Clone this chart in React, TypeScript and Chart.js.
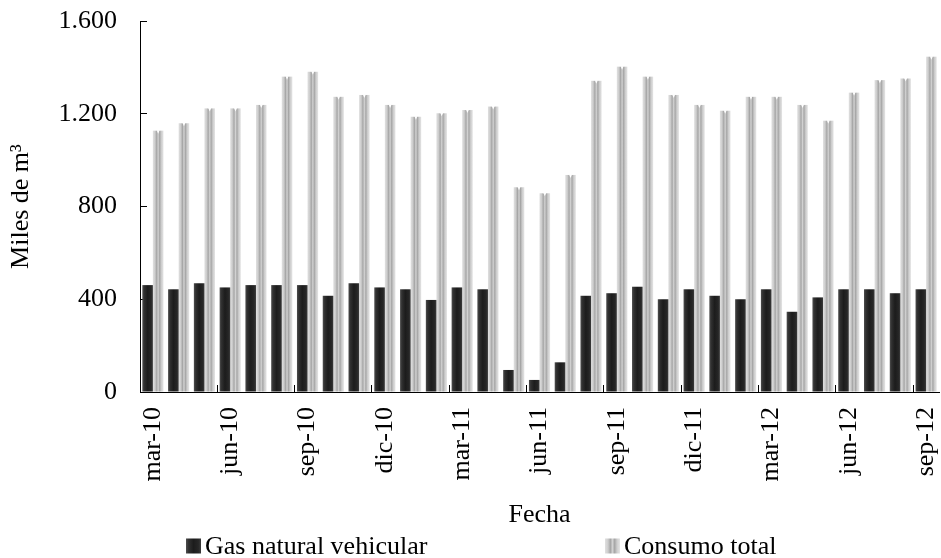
import React, { useEffect, useRef } from 'react';
import { Chart, registerables } from 'chart.js';

Chart.register(...registerables);

const months = [
  'mar-10', 'abr-10', 'may-10', 'jun-10', 'jul-10', 'ago-10', 'sep-10', 'oct-10', 'nov-10', 'dic-10',
  'ene-11', 'feb-11', 'mar-11', 'abr-11', 'may-11', 'jun-11', 'jul-11', 'ago-11', 'sep-11', 'oct-11',
  'nov-11', 'dic-11', 'ene-12', 'feb-12', 'mar-12', 'abr-12', 'may-12', 'jun-12', 'jul-12', 'ago-12', 'sep-12',
];

const gasNaturalVehicular = [
  461, 443, 469, 451, 461, 461, 461, 415, 469, 451,
  443, 397, 451, 443, 95, 52, 128, 415, 426, 454,
  400, 443, 415, 400, 443, 346, 408, 443, 443, 426, 443,
];

const consumoTotal = [
  1127, 1159, 1223, 1223, 1238, 1360, 1381, 1273, 1281, 1238,
  1187, 1202, 1216, 1231, 883, 857, 936, 1342, 1403, 1360,
  1281, 1238, 1213, 1273, 1273, 1238, 1170, 1291, 1345, 1352, 1446,
];

const seriesLabels = ['Gas natural vehicular', 'Consumo total'];

const FONT = '"Liberation Serif", "Times New Roman", serif';

const darkStops: [number, string][] = [
  [0, '#4e4e4e'], [0.18, '#303030'], [0.5, '#1c1c1c'], [0.82, '#262626'], [1, '#3c3c3c'],
];
const lightStops: [number, string][] = [
  [0, '#e0e0e0'], [0.2, '#cdcdcd'], [0.36, '#a6a6a6'], [0.5, '#d2d2d2'],
  [0.64, '#a6a6a6'], [0.8, '#cdcdcd'], [1, '#e4e4e4'],
];
const stopsBySeries = [darkStops, lightStops];

function makeGradient(ctx: CanvasRenderingContext2D, x0: number, x1: number, stops: [number, string][]) {
  const g = ctx.createLinearGradient(x0, 0, x1, 0);
  stops.forEach(([o, c]) => g.addColorStop(o, c));
  return g;
}

const gradientBars = {
  id: 'gradientBars',
  afterDatasetDraw(chart: any, args: any) {
    const ctx: CanvasRenderingContext2D = chart.ctx;
    const stops = stopsBySeries[args.index];
    const area = chart.chartArea;
    ctx.save();
    ctx.beginPath();
    ctx.rect(area.left, area.top, area.right - area.left, area.bottom - area.top);
    ctx.clip();
    args.meta.data.forEach((el: any) => {
      const { x, y, base, width } = el.getProps(['x', 'y', 'base', 'width'], true);
      const left = x - width / 2;
      ctx.fillStyle = makeGradient(ctx, left, left + width, stops);
      ctx.fillRect(left, y, width, base - y);
      if (args.index === 1) {
        ctx.fillStyle = '#ffffff';
        ctx.beginPath();
        ctx.moveTo(x - width * 0.14, y - 0.5);
        ctx.lineTo(x + width * 0.14, y - 0.5);
        ctx.lineTo(x, y + 3);
        ctx.closePath();
        ctx.fill();
      }
    });
    ctx.restore();
  },
};

const bottomLegend = {
  id: 'bottomLegend',
  afterDraw(chart: any) {
    const ctx: CanvasRenderingContext2D = chart.ctx;
    const boxXs = [186, 605];
    const cy = 546;
    const box = 15;
    ctx.save();
    ctx.font = `26px ${FONT}`;
    ctx.textBaseline = 'middle';
    ctx.textAlign = 'left';
    chart.data.datasets.forEach((ds: any, i: number) => {
      const bx = boxXs[i];
      ctx.fillStyle = makeGradient(ctx, bx, bx + box, stopsBySeries[i]);
      ctx.fillRect(bx, cy - box / 2, box, box);
      ctx.fillStyle = '#000';
      ctx.fillText(ds.label, bx + box + 4, cy + 1);
    });
    ctx.restore();
  },
};

function formatThousands(v: number) {
  return String(v).replace(/\B(?=(\d{3})+(?!\d))/g, '.');
}

export default function App() {
  const canvasRef = useRef<HTMLCanvasElement | null>(null);

  useEffect(() => {
    document.body.style.margin = '0';
    const canvas = canvasRef.current;
    if (!canvas) return;
    const chart = new Chart(canvas, {
      type: 'bar',
      data: {
        labels: months,
        datasets: [
          {
            label: seriesLabels[0],
            data: gasNaturalVehicular,
            backgroundColor: 'rgba(0,0,0,0)',
            borderWidth: 0,
          },
          {
            label: seriesLabels[1],
            data: consumoTotal,
            backgroundColor: 'rgba(0,0,0,0)',
            borderWidth: 0,
          },
        ],
      },
      options: {
        responsive: false,
        animation: false,
        devicePixelRatio: 1,
        datasets: {
          bar: { categoryPercentage: 0.82, barPercentage: 1 },
        },
        layout: { padding: { left: 0, right: 2, top: 21, bottom: 20 } },
        plugins: {
          legend: { display: false },
          tooltip: { enabled: false },
        },
        scales: {
          x: {
            offset: true,
            border: { display: true, color: '#000', width: 1 },
            grid: {
              offset: true,
              drawOnChartArea: false,
              drawTicks: true,
              tickLength: -7,
              lineWidth: 1,
              color: (c: any) => (c.index % 3 === 0 ? '#000' : 'rgba(0,0,0,0)'),
            },
            ticks: {
              autoSkip: false,
              minRotation: 90,
              maxRotation: 90,
              padding: 22,
              color: '#000',
              font: { family: FONT, size: 26 },
              callback: (_v: any, i: number) => (i % 3 === 0 ? months[i] : ''),
            },
            title: {
              display: true,
              text: 'Fecha',
              color: '#000',
              font: { family: FONT, size: 26 },
              padding: { top: 0, bottom: 7 },
            },
            afterFit: (s: any) => {
              s.height = 146;
              s.paddingLeft = 0;
              s.paddingRight = 0;
            },
          },
          y: {
            min: 0,
            max: 1600,
            border: { display: true, color: '#000', width: 1 },
            grid: {
              drawOnChartArea: false,
              drawTicks: true,
              tickLength: -7,
              color: '#000',
            },
            ticks: {
              stepSize: 400,
              padding: 30,
              color: '#000',
              font: { family: FONT, size: 26 },
              callback: (v: any) => formatThousands(Number(v)),
            },
            title: {
              display: true,
              text: 'Miles de m³',
              color: '#000',
              font: { family: FONT, size: 26 },
              padding: { top: 6, bottom: 0 },
            },
            afterFit: (s: any) => {
              s.width = 140;
              s.paddingTop = 0;
              s.paddingBottom = 0;
            },
          },
        },
      },
      plugins: [gradientBars, bottomLegend],
    });
    return () => chart.destroy();
  }, []);

  return (
    <div style={{ position: 'absolute', left: 0, top: 0, width: 941, height: 558, background: '#fff' }}>
      <canvas ref={canvasRef} width={941} height={558} style={{ width: 941, height: 558, display: 'block' }} />
    </div>
  );
}
